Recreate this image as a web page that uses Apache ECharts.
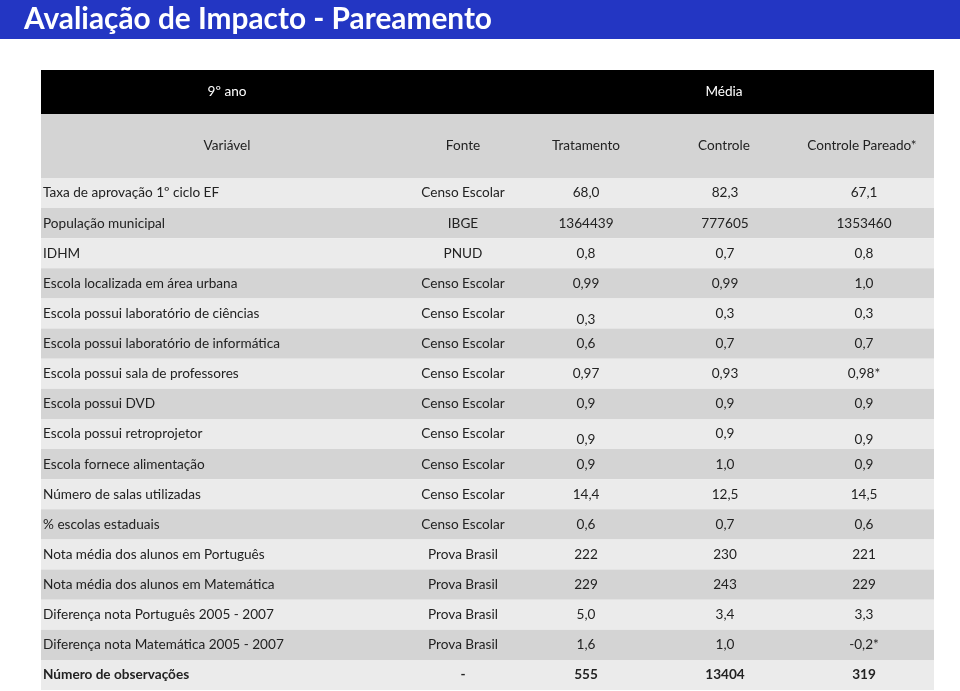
<!DOCTYPE html>
<html><head><meta charset="utf-8">
<script src="https://cdn.jsdelivr.net/npm/echarts@6/dist/echarts.min.js"></script>
<style>html,body{margin:0;padding:0;background:#fff}#c{width:960px;height:691px}</style>
</head><body><div id="c"></div>
<script>
const titleText = 'Avaliação de Impacto - Pareamento';
const headerGroups = ['9º ano', 'Média'];
const headerColumns = ['Variável', 'Fonte', 'Tratamento', 'Controle', 'Controle Pareado*'];
const variables = [
  'Taxa de aprovação 1º ciclo EF', 'População municipal', 'IDHM',
  'Escola localizada em área urbana', 'Escola possui laboratório de ciências',
  'Escola possui laboratório de informática', 'Escola possui sala de professores',
  'Escola possui DVD', 'Escola possui retroprojetor', 'Escola fornece alimentação',
  'Número de salas utilizadas', '% escolas estaduais', 'Nota média dos alunos em Português',
  'Nota média dos alunos em Matemática', 'Diferença nota Português 2005 - 2007',
  'Diferença nota Matemática 2005 - 2007', 'Número de observações'
];
const sources = [
  'Censo Escolar', 'IBGE', 'PNUD', 'Censo Escolar', 'Censo Escolar', 'Censo Escolar',
  'Censo Escolar', 'Censo Escolar', 'Censo Escolar', 'Censo Escolar', 'Censo Escolar',
  'Censo Escolar', 'Prova Brasil', 'Prova Brasil', 'Prova Brasil', 'Prova Brasil', '-'
];
const tratamento = ['68,0', '1364439', '0,8', '0,99', '0,3', '0,6', '0,97', '0,9', '0,9', '0,9', '14,4', '0,6', '222', '229', '5,0', '1,6', '555'];
const controle   = ['82,3', '777605', '0,7', '0,99', '0,3', '0,7', '0,93', '0,9', '0,9', '1,0', '12,5', '0,7', '230', '243', '3,4', '1,0', '13404'];
const pareado    = ['67,1', '1353460', '0,8', '1,0', '0,3', '0,7', '0,98*', '0,9', '0,9', '0,9', '14,5', '0,6', '221', '229', '3,3', '-0,2*', '319'];
// cells drawn slightly lower in the original (row, column)
const loweredCells = [[4, 2], [8, 2], [8, 4]];
const boldRows = [16];

const FONT = 'Lato, "Open Sans", sans-serif';
const TXT = '#222222';
const SIZE = '13.6px ';
const colX = [43, 463, 586, 725, 864];
const colAlign = ['left', 'center', 'center', 'center', 'center'];

const chart = echarts.init(document.getElementById('c'), null, {renderer: 'canvas'});

function renderItem(params, api) {
  const i = api.value(1);
  const c = api.coord([0, i]);
  const h = api.size([0, 1])[1];
  const cs = params.coordSys;
  const bold = boldRows.indexOf(i) >= 0;
  const cells = [variables[i], sources[i], tratamento[i], controle[i], pareado[i]];
  const children = [{
    type: 'rect',
    shape: {x: cs.x, y: c[1] - h / 2, width: cs.width, height: h},
    style: {fill: i % 2 === 0 ? '#ebebeb' : '#d4d4d4'}
  }];
  cells.forEach((t, k) => {
    const low = loweredCells.some(p => p[0] === i && p[1] === k) ? 6 : 0;
    children.push({
      type: 'text',
      style: {
        text: t, x: colX[k], y: c[1] + low,
        textAlign: colAlign[k], align: colAlign[k],
        textVerticalAlign: 'middle', verticalAlign: 'middle',
        fill: TXT,
        font: (bold ? 'bold ' : '') + SIZE + FONT
      }
    });
  });
  return {type: 'group', children};
}

const graphics = [
  {type: 'rect', shape: {x: 0, y: 0, width: 960, height: 39}, style: {fill: '#2336c3'}},
  {type: 'text', style: {text: titleText, x: 24, y: 19, verticalAlign: 'middle', textVerticalAlign: 'middle', fill: '#ffffff', font: 'bold 29.8px ' + FONT}},
  {type: 'rect', shape: {x: 41, y: 70, width: 893, height: 44}, style: {fill: '#000000'}},
  {type: 'rect', shape: {x: 41, y: 114, width: 893, height: 64}, style: {fill: '#d4d4d4'}},
  {type: 'text', style: {text: headerGroups[0], x: 227, y: 92, align: 'center', textAlign: 'center', verticalAlign: 'middle', textVerticalAlign: 'middle', fill: '#ffffff', font: SIZE + FONT}},
  {type: 'text', style: {text: headerGroups[1], x: 724, y: 92, align: 'center', textAlign: 'center', verticalAlign: 'middle', textVerticalAlign: 'middle', fill: '#ffffff', font: SIZE + FONT}}
];
const headerX = [227, 463, 586, 724, 862];
headerColumns.forEach((t, k) => {
  graphics.push({type: 'text', style: {text: t, x: headerX[k], y: 146, align: 'center', textAlign: 'center', verticalAlign: 'middle', textVerticalAlign: 'middle', fill: TXT, font: SIZE + FONT}});
});

chart.setOption({
  animation: false,
  grid: {left: 41, right: 26, top: 178, bottom: 1},
  xAxis: {type: 'value', min: 0, max: 1, show: false},
  yAxis: {type: 'category', data: variables, inverse: true, show: false},
  series: [{
    type: 'custom',
    renderItem: renderItem,
    encode: {x: 0, y: 1},
    data: variables.map((v, i) => [0, i])
  }],
  graphic: graphics
});
</script></body></html>
